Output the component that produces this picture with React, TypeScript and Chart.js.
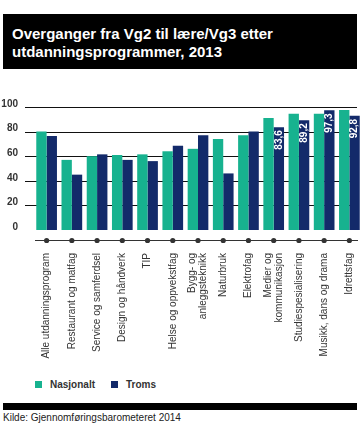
import React, { useEffect, useRef } from "react";
import { Chart, registerables } from "chart.js";

Chart.register(...registerables);

const categories: (string | string[])[] = [
  "Alle utdanningsprogram",
  "Restaurant og matfag",
  "Service og samferdsel",
  "Design og håndverk",
  "TIP",
  "Helse og oppvekstfag",
  ["Bygg- og", "anleggsteknikk"],
  "Naturbruk",
  "Elektrofag",
  ["Medier og", "kommunikasjon"],
  "Studiespesialisering",
  "Musikk, dans og drama",
  "Idrettsfag",
];

const nasjonalt = [80, 57, 60, 61, 61.5, 64, 66, 74, 77, 91, 94.5, 94.5, 97.5];
const troms = [76.5, 45, 61.5, 57, 56, 68.5, 77, 46, 80, 83.6, 89.2, 97.3, 92.8];

// Troms values shown as labels inside the bars (category indices)
const labelledTroms = [9, 10, 11, 12];

const yTicks = [0, 20, 40, 60, 80, 100];
const gridValues = [20, 40, 60, 80, 100];

const TEAL = "#17b28f";
const NAVY = "#132a6a";
const FONT = "'Liberation Sans', Arial, sans-serif";

const customPlugin = {
  id: "customDecor",
  beforeDatasetsDraw(chart: any) {
    const { ctx, chartArea, scales } = chart;
    const x = scales.x;
    const y = scales.y;
    ctx.save();
    ctx.strokeStyle = "#111";
    ctx.lineWidth = 1;
    for (const v of gridValues) {
      const py = Math.round(y.getPixelForValue(v)) + 0.5;
      ctx.beginPath();
      ctx.moveTo(chartArea.left - 9, py);
      ctx.lineTo(chartArea.right - 5, py);
      ctx.stroke();
    }
    const ly = Math.round(chartArea.bottom + 10) + 0.5;
    ctx.strokeStyle = "#333";
    ctx.beginPath();
    ctx.moveTo(chartArea.left + 1, ly);
    ctx.lineTo(chartArea.right - 4, ly);
    ctx.stroke();
    ctx.fillStyle = "#333";
    categories.forEach((_, i) => {
      const px = x.getPixelForValue(i);
      ctx.beginPath();
      ctx.arc(px, ly, 2.6, 0, Math.PI * 2);
      ctx.fill();
    });

    // category labels, rotated, reading bottom to top, anchored at the top
    ctx.fillStyle = "#333";
    ctx.font = `10px ${FONT}`;
    ctx.textAlign = "right";
    ctx.textBaseline = "middle";
    const lh = 11;
    categories.forEach((cat, i) => {
      const lines = Array.isArray(cat) ? cat : [cat];
      const px = x.getPixelForValue(i);
      lines.forEach((line, j) => {
        const off = (j - (lines.length - 1) / 2) * lh;
        ctx.save();
        ctx.translate(px + off, chartArea.bottom + 23);
        ctx.rotate(-Math.PI / 2);
        ctx.fillText(line, 0, 0);
        ctx.restore();
      });
    });
    ctx.restore();
  },
  afterDatasetsDraw(chart: any) {
    const { ctx } = chart;
    const meta = chart.getDatasetMeta(1);
    ctx.save();
    ctx.fillStyle = "#ffffff";
    ctx.font = `bold 10px ${FONT}`;
    ctx.textAlign = "right";
    ctx.textBaseline = "middle";
    for (const i of labelledTroms) {
      const bar = meta.data[i];
      if (!bar) continue;
      const txt = troms[i].toFixed(1).replace(".", ",");
      ctx.save();
      ctx.translate(bar.x, bar.y + 3);
      ctx.rotate(-Math.PI / 2);
      ctx.fillText(txt, 0, 0);
      ctx.restore();
    }
    ctx.restore();
  },
};

export default function App() {
  const canvasRef = useRef<HTMLCanvasElement | null>(null);

  useEffect(() => {
    if (!canvasRef.current) return;
    const chart = new Chart(canvasRef.current, {
      type: "bar",
      data: {
        labels: categories,
        datasets: [
          {
            label: "Nasjonalt",
            data: nasjonalt,
            backgroundColor: TEAL,
            categoryPercentage: 0.82,
            barPercentage: 1.0,
          },
          {
            label: "Troms",
            data: troms,
            backgroundColor: NAVY,
            categoryPercentage: 0.82,
            barPercentage: 1.0,
          },
        ],
      },
      options: {
        animation: false,
        responsive: false,
        maintainAspectRatio: false,
        layout: { padding: { top: 12, right: 1, left: 0, bottom: 0 } },
        plugins: {
          legend: { display: false },
          tooltip: { enabled: false },
        },
        scales: {
          x: {
            grid: { display: false, drawTicks: false },
            border: { display: false },
            ticks: { display: false, autoSkip: false },
            afterFit: (scale: any) => {
              scale.height = 135;
            },
          },
          y: {
            min: 0,
            max: 100,
            afterBuildTicks: (scale: any) => {
              scale.ticks = yTicks.map((v) => ({ value: v }));
            },
            grid: { display: false, drawTicks: false },
            border: { display: false },
            ticks: {
              padding: 16,
              labelOffset: -3,
              color: "#333",
              font: { family: FONT, size: 10, weight: "bold" },
            },
            afterFit: (scale: any) => {
              scale.width = 34;
            },
          },
        },
      },
      plugins: [customPlugin],
    });
    return () => chart.destroy();
  }, []);

  const legendItem = (color: string, label: string, left: number) => (
    <div style={{ position: "absolute", left, top: 377, height: 14, display: "flex", alignItems: "center" }}>
      <div style={{ width: 7, height: 7, background: color, marginRight: 8 }} />
      <span style={{ font: `bold 10px ${FONT}`, color: "#333" }}>{label}</span>
    </div>
  );

  return (
    <div style={{ position: "absolute", left: 0, top: 0, width: 363, height: 427, background: "#fff", overflow: "hidden" }}>
      <div
        style={{
          position: "absolute",
          left: 3,
          top: 14,
          width: 354,
          height: 55,
          background: "#000",
          color: "#fff",
          font: `bold 15px ${FONT}`,
          lineHeight: "18px",
          boxSizing: "border-box",
          paddingLeft: 9,
          paddingTop: 11,
        }}
      >
        Overganger fra Vg2 til lære/Vg3 etter
        <br />
        utdanningsprogrammer, 2013
      </div>
      <canvas
        ref={canvasRef}
        width={363}
        height={280}
        style={{ position: "absolute", left: 0, top: 85, width: 363, height: 280 }}
      />
      {legendItem(TEAL, "Nasjonalt", 35)}
      {legendItem(NAVY, "Troms", 111)}
      <div style={{ position: "absolute", left: 3, top: 403, width: 354, height: 7, background: "#000" }} />
      <div style={{ position: "absolute", left: 3, top: 412, font: `10px ${FONT}`, color: "#222", lineHeight: "12px" }}>
        Kilde: Gjennomføringsbarometeret 2014
      </div>
    </div>
  );
}
